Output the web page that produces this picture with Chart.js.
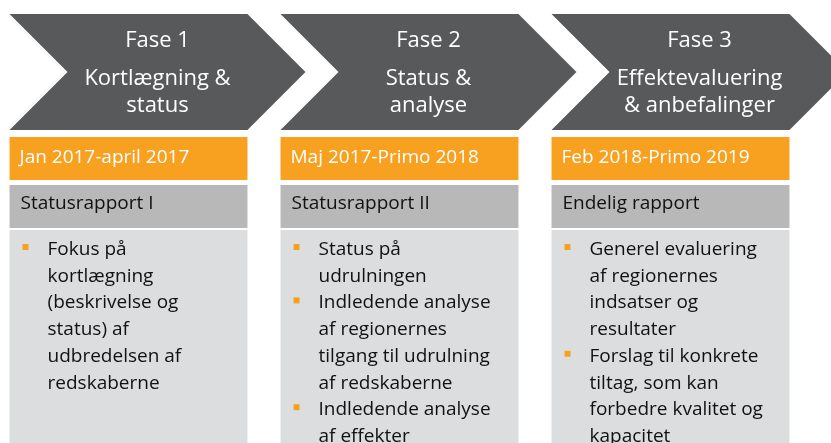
<!DOCTYPE html>
<html>
<head>
<meta charset="utf-8">
<script src="https://cdn.jsdelivr.net/npm/chart.js@4"></script>
<style>
  html, body { margin: 0; padding: 0; background: #fff; overflow: hidden; }
  #wrap { position: absolute; left: -7px; top: 0; width: 838px; height: 443px; }
</style>
</head>
<body>
<div id="wrap"><canvas id="c" width="838" height="443"></canvas></div>
<script>
// diagram content
const phases = ['Fase 1', 'Fase 2', 'Fase 3'];
const phaseTitles = [
  ['Kortlægning &', 'status'],
  ['Status &', 'analyse'],
  ['Effektevaluering', '& anbefalinger']
];
const periods = ['Jan 2017-april 2017', 'Maj 2017-Primo 2018', 'Feb 2018-Primo 2019'];
const reports = ['Statusrapport I', 'Statusrapport II', 'Endelig rapport'];
const bullets = [
  [['Fokus på', 'kortlægning', '(beskrivelse og', 'status) af', 'udbredelsen af', 'redskaberne']],
  [['Status på', 'udrulningen'],
   ['Indledende analyse', 'af regionernes', 'tilgang til udrulning', 'af redskaberne'],
   ['Indledende analyse', 'af effekter']],
  [['Generel evaluering', 'af regionernes', 'indsatser og', 'resultater'],
   ['Forslag til konkrete', 'tiltag, som kan', 'forbedre kvalitet og', 'kapacitet']]
];

// layout (y runs top->bottom in px)
const arrowBand = [14, 130];
const periodBand = [137, 180];
const reportBand = [185, 228];
const bodyBand = [230, 470];

const DARK = '#58595b';
const ORANGE = '#f8a120';
const MID = '#b8b8b8';
const LIGHT = '#dcddde';
const FONT = '"Open Sans", Lato, sans-serif';

const chevrons = {
  id: 'chevrons',
  beforeDatasetsDraw(chart) {
    const ctx = chart.ctx;
    const y = chart.scales.y;
    const top = y.getPixelForValue(arrowBand[0]);
    const bot = y.getPixelForValue(arrowBand[1]);
    const mid = (top + bot) / 2;
    const depth = (bot - top) / 2;
    chart.getDatasetMeta(0).data.forEach((bar, i) => {
      const l = bar.x - bar.width / 2, r = bar.x + bar.width / 2;
      ctx.save();
      ctx.fillStyle = DARK;
      ctx.beginPath();
      ctx.moveTo(l, top);
      ctx.lineTo(r, top);
      ctx.lineTo(r + depth, mid);
      ctx.lineTo(r, bot);
      ctx.lineTo(l, bot);
      ctx.lineTo(l + depth, mid);
      ctx.closePath();
      ctx.fill();
      ctx.fillStyle = '#fff';
      ctx.textAlign = 'center';
      ctx.textBaseline = 'alphabetic';
      ctx.font = '22px ' + FONT;
      const cx = bar.x + depth / 2;
      ctx.fillText(phases[i], cx, top + 33);
      phaseTitles[i].forEach((t, k) => ctx.fillText(t, cx, top + 71 + k * 27));
      ctx.restore();
    });
  },
  afterDatasetsDraw(chart) {
    const ctx = chart.ctx;
    const y = chart.scales.y;
    chart.getDatasetMeta(0).data.forEach((bar, i) => {
      const l = bar.x - bar.width / 2;
      ctx.save();
      ctx.textAlign = 'left';
      ctx.textBaseline = 'alphabetic';
      ctx.font = '19px ' + FONT;
      ctx.fillStyle = '#fff';
      ctx.fillText(periods[i], l + 10, y.getPixelForValue(periodBand[1]) - 17);
      ctx.fillStyle = '#111';
      ctx.fillText(reports[i], l + 11, y.getPixelForValue(reportBand[1]) - 19);
      let line = 0;
      const base = y.getPixelForValue(bodyBand[0]) + 25;
      bullets[i].forEach(b => {
        ctx.fillStyle = ORANGE;
        ctx.fillRect(l + 13, base + line * 26.7 - 11, 6, 6);
        ctx.fillStyle = '#111';
        b.forEach(t => {
          ctx.fillText(t, l + 38, base + line * 26.7);
          line++;
        });
      });
      ctx.restore();
    });
  }
};

new Chart(document.getElementById('c'), {
  type: 'bar',
  data: {
    labels: phases,
    datasets: [
      { label: 'Periode', data: phases.map(() => periodBand), backgroundColor: ORANGE },
      { label: 'Rapport', data: phases.map(() => reportBand), backgroundColor: MID },
      { label: 'Indhold', data: phases.map(() => bodyBand), backgroundColor: LIGHT }
    ]
  },
  options: {
    responsive: false,
    animation: false,
    layout: { padding: { left: 0, right: 25, top: 0, bottom: 0 } },
    plugins: { legend: { display: false }, tooltip: { enabled: false } },
    datasets: { bar: { grouped: false, categoryPercentage: 1, barPercentage: 0.878 } },
    scales: {
      x: { display: false },
      y: { display: false, min: 0, max: 443, reverse: true }
    }
  },
  plugins: [chevrons]
});
</script>
</body>
</html>
